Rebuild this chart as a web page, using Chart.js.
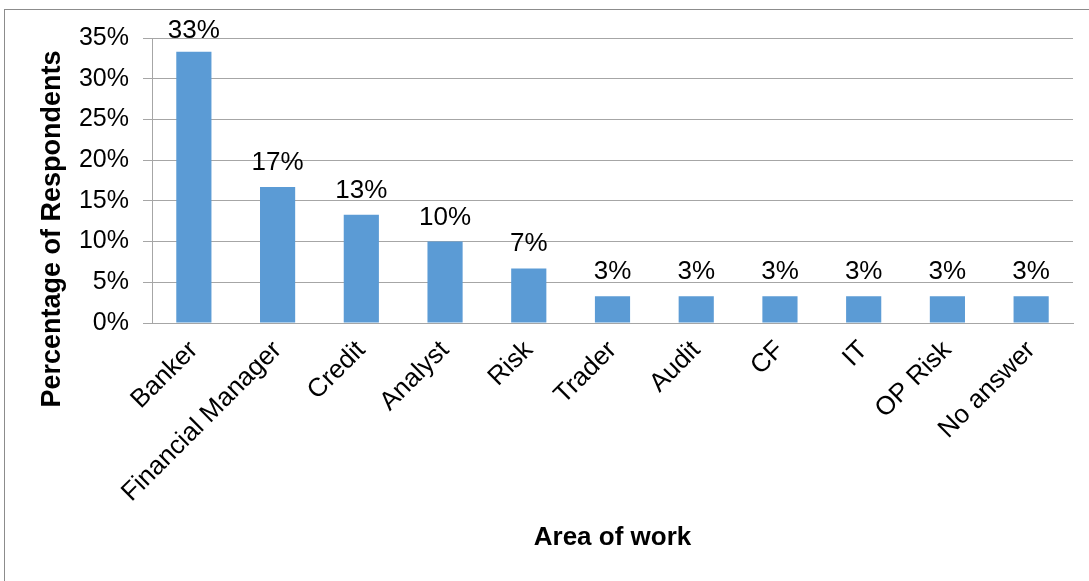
<!DOCTYPE html>
<html>
<head>
<meta charset="utf-8">
<script src="https://cdn.jsdelivr.net/npm/chart.js@4/dist/chart.umd.min.js"></script>
<style>
  html, body { margin: 0; padding: 0; background: #fff; overflow: hidden; }
  #wrap { position: relative; width: 1089px; height: 581px; }
  #frame {
    position: absolute; left: 4px; top: 9px; width: 1200px; height: 700px;
    border-left: 1px solid #8c8c8c; border-top: 1px solid #8c8c8c;
  }
  #area-chart { position: absolute; left: 0; top: 0; }
</style>
</head>
<body>
<div id="wrap">
  <div id="frame"></div>
  <canvas id="area-chart" width="1089" height="581"></canvas>
</div>
<script>
/* ================================
   AREA OF WORK - BAR CHART
   ================================ */

const workAreas = ['Banker', 'Financial Manager', 'Credit', 'Analyst', 'Risk', 'Trader', 'Audit', 'CF', 'IT', 'OP Risk', 'No answer'];
const shareValues = [33.3, 16.7, 13.3, 10, 6.7, 3.3, 3.3, 3.3, 3.3, 3.3, 3.3];
const yTickValues = [0, 5, 10, 15, 20, 25, 30, 35];

const FONT = '"Liberation Sans", Arial, sans-serif';
const GRID = '#a6a6a6';

Chart.defaults.font.family = FONT;
Chart.defaults.color = '#000';

// value labels on top of each bar
const barLabels = {
  id: 'barLabels',
  afterDatasetsDraw(chart) {
    const ctx = chart.ctx;
    const meta = chart.getDatasetMeta(0);
    ctx.save();
    ctx.font = '26px ' + FONT;
    ctx.fillStyle = '#000';
    ctx.textAlign = 'center';
    ctx.textBaseline = 'alphabetic';
    meta.data.forEach((bar, i) => {
      const y = Math.max(bar.y - 17, chart.chartArea.top);
      ctx.fillText(Math.round(shareValues[i]) + '%', bar.x, y);
    });
    ctx.restore();
  }
};

// y axis title (sits lower than the plot centre in the original)
const yTitle = {
  id: 'yTitle',
  afterDraw(chart) {
    const ctx = chart.ctx;
    ctx.save();
    ctx.translate(53, 229);
    ctx.rotate(-Math.PI / 2);
    ctx.font = 'bold 27px ' + FONT;
    ctx.fillStyle = '#000';
    ctx.textAlign = 'center';
    ctx.textBaseline = 'middle';
    ctx.fillText('Percentage of Respondents', 0, 0);
    ctx.restore();
  }
};

const ctx = document.getElementById('area-chart').getContext('2d');
new Chart(ctx, {
  type: 'bar',
  data: {
    labels: workAreas,
    datasets: [{
      data: shareValues,
      backgroundColor: '#5b9bd5',
      categoryPercentage: 1,
      barPercentage: 0.42
    }]
  },
  options: {
    responsive: false,
    animation: false,
    layout: { padding: { left: 0, right: 16, top: 38, bottom: 20 } },
    plugins: {
      legend: { display: false },
      tooltip: { enabled: false }
    },
    scales: {
      y: {
        min: 0,
        max: 35,
        afterFit: s => { s.width = 152; },
        afterBuildTicks: s => { s.ticks = yTickValues.map(v => ({ value: v })); },
        ticks: {
          font: { size: 25 },
          padding: 14,
          callback: v => v + '%'
        },
        grid: { color: GRID, lineWidth: 1, tickLength: 9 },
        border: { color: GRID }
      },
      x: {
        afterFit: s => { s.height = 238; },
        ticks: {
          font: { size: 26 },
          minRotation: 45,
          maxRotation: 45,
          autoSkip: false,
          padding: 4
        },
        grid: { display: false },
        border: { color: GRID },
        title: {
          display: true,
          text: 'Area of work',
          font: { size: 26, weight: 'bold' },
          padding: { top: 0, bottom: 8 }
        }
      }
    }
  },
  plugins: [barLabels, yTitle]
});
</script>
</body>
</html>
